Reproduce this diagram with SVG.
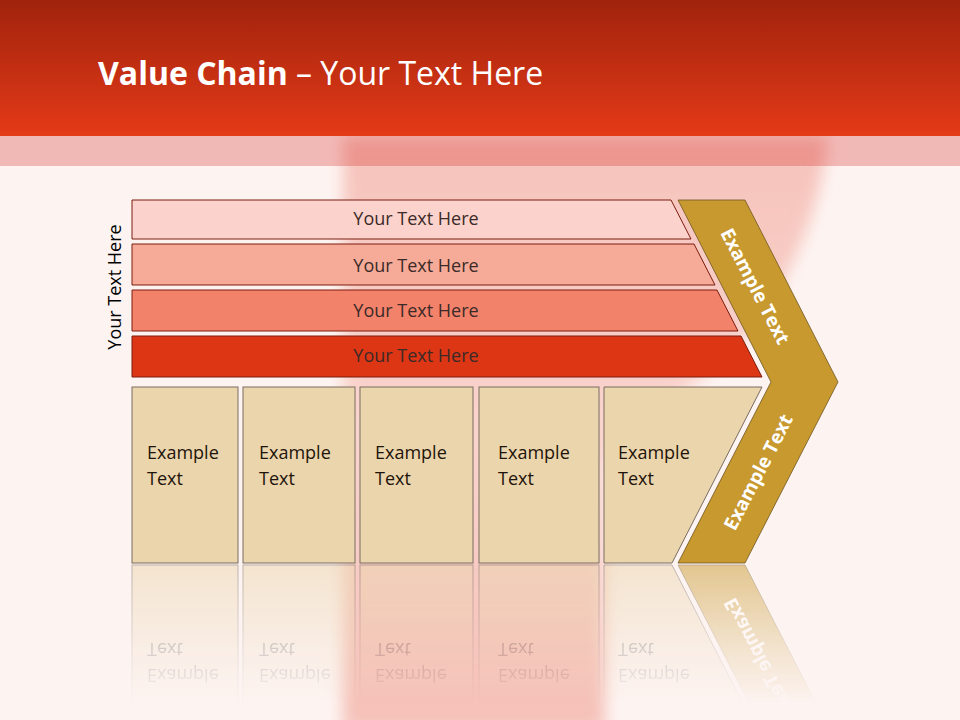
<svg xmlns="http://www.w3.org/2000/svg" xmlns:xlink="http://www.w3.org/1999/xlink" width="960" height="720" viewBox="0 0 960 720">
<defs>
<linearGradient id="hdr" x1="0" y1="0" x2="0" y2="1">
<stop offset="0" stop-color="#a0230c"/>
<stop offset="1" stop-color="#e43a18"/>
</linearGradient>
<linearGradient id="blob" x1="0" y1="0" x2="0" y2="1">
<stop offset="0" stop-color="#f6c3bb"/>
<stop offset="0.5" stop-color="#f9d4cd"/>
<stop offset="1" stop-color="#f5c0b7"/>
</linearGradient>
<filter id="blur" x="-10%" y="-10%" width="120%" height="120%">
<feGaussianBlur stdDeviation="8"/>
</filter>
<linearGradient id="fade" gradientUnits="userSpaceOnUse" x1="0" y1="565" x2="0" y2="705">
<stop offset="0" stop-color="#fff" stop-opacity="0.5"/>
<stop offset="0.6" stop-color="#fff" stop-opacity="0.18"/>
<stop offset="1" stop-color="#fff" stop-opacity="0"/>
</linearGradient>
<mask id="reflMask" maskUnits="userSpaceOnUse" x="0" y="560" width="960" height="160">
<rect x="0" y="560" width="960" height="160" fill="url(#fade)"/>
</mask>
<style>
.bar{stroke:#7d1c0e;stroke-width:1}
.bt{font-family:"Open Sans","Liberation Sans",sans-serif;font-size:18px;fill:#3b2a28;text-anchor:middle}
.box{fill:#ebd5ad;stroke:#7a6d60;stroke-width:1}
.xt{font-family:"Open Sans","Liberation Sans",sans-serif;font-size:18px;fill:#1e140a}
.chev{fill:#c8992f;stroke:#6e5520;stroke-width:0.8}
.ct{font-family:"Open Sans","Liberation Sans",sans-serif;font-size:19px;font-weight:bold;fill:#ffffff;text-anchor:middle}
</style>
</defs>

<!-- background -->
<rect x="0" y="0" width="960" height="720" fill="#fdf4f2"/>
<path d="M343,136 L828,136 C 822,200 800,260 760,320 C 700,400 612,420 605,470 L605,730 L343,730 Z" fill="url(#blob)" filter="url(#blur)"/>
<rect x="0" y="0" width="960" height="136" fill="url(#hdr)"/>
<rect x="0" y="136" width="960" height="30" fill="#d5211c" fill-opacity="0.28"/>

<text x="98" y="85" font-family="'Open Sans','Liberation Sans',sans-serif" font-size="32" fill="#ffffff"><tspan font-weight="bold">Value Chain</tspan> – Your Text Here</text>

<text transform="translate(121,287) rotate(-90)" x="0" y="0" font-family="'Open Sans','Liberation Sans',sans-serif" font-size="18" fill="#000000" text-anchor="middle">Your Text Here</text>

<!-- bars -->
<g id="bar1"><path class="bar" d="M132,200 L671,200 L691,239 L132,239 Z" fill="#fbd3cc"/><text class="bt" x="416" y="225">Your Text Here</text></g>
<g id="bar2"><path class="bar" d="M132,244 L694,244 L715,285 L132,285 Z" fill="#f6aa98"/><text class="bt" x="416" y="272">Your Text Here</text></g>
<g id="bar3"><path class="bar" d="M132,290 L717,290 L738,331 L132,331 Z" fill="#f2826a"/><text class="bt" x="416" y="317">Your Text Here</text></g>
<g id="bar4"><path class="bar" d="M132,336 L741,336 L762,377 L132,377 Z" fill="#dc3614"/><text class="bt" x="416" y="362">Your Text Here</text></g>

<!-- bottom boxes -->
<g id="boxes">
<g id="box1"><rect class="box" x="132" y="387" width="106" height="176"/><text class="xt" x="147" y="459">Example</text><text class="xt" x="147" y="485">Text</text></g>
<g id="box2"><rect class="box" x="243" y="387" width="112" height="176"/><text class="xt" x="259" y="459">Example</text><text class="xt" x="259" y="485">Text</text></g>
<g id="box3"><rect class="box" x="360" y="387" width="113" height="176"/><text class="xt" x="375" y="459">Example</text><text class="xt" x="375" y="485">Text</text></g>
<g id="box4"><rect class="box" x="479" y="387" width="120" height="176"/><text class="xt" x="498" y="459">Example</text><text class="xt" x="498" y="485">Text</text></g>
<g id="box5"><path class="box" d="M604,387 L762,387 L672,563 L604,563 Z"/><text class="xt" x="618" y="459">Example</text><text class="xt" x="618" y="485">Text</text></g>
<g id="chevron">
<path class="chev" d="M678,200 L745,200 L838,382 L745,563 L678,563 L771,382 Z"/>
<text class="ct" transform="translate(755.5,286) rotate(62.7)" x="0" y="7">Example Text</text>
<text class="ct" transform="translate(758,472) rotate(-62.7)" x="0" y="7">Example Text</text>
</g>
</g>

<!-- reflection -->
<g id="reflection" mask="url(#reflMask)">
<use xlink:href="#boxes" href="#boxes" transform="translate(0,1128) scale(1,-1)"/>
</g>

<g id="connectors"></g>
</svg>
